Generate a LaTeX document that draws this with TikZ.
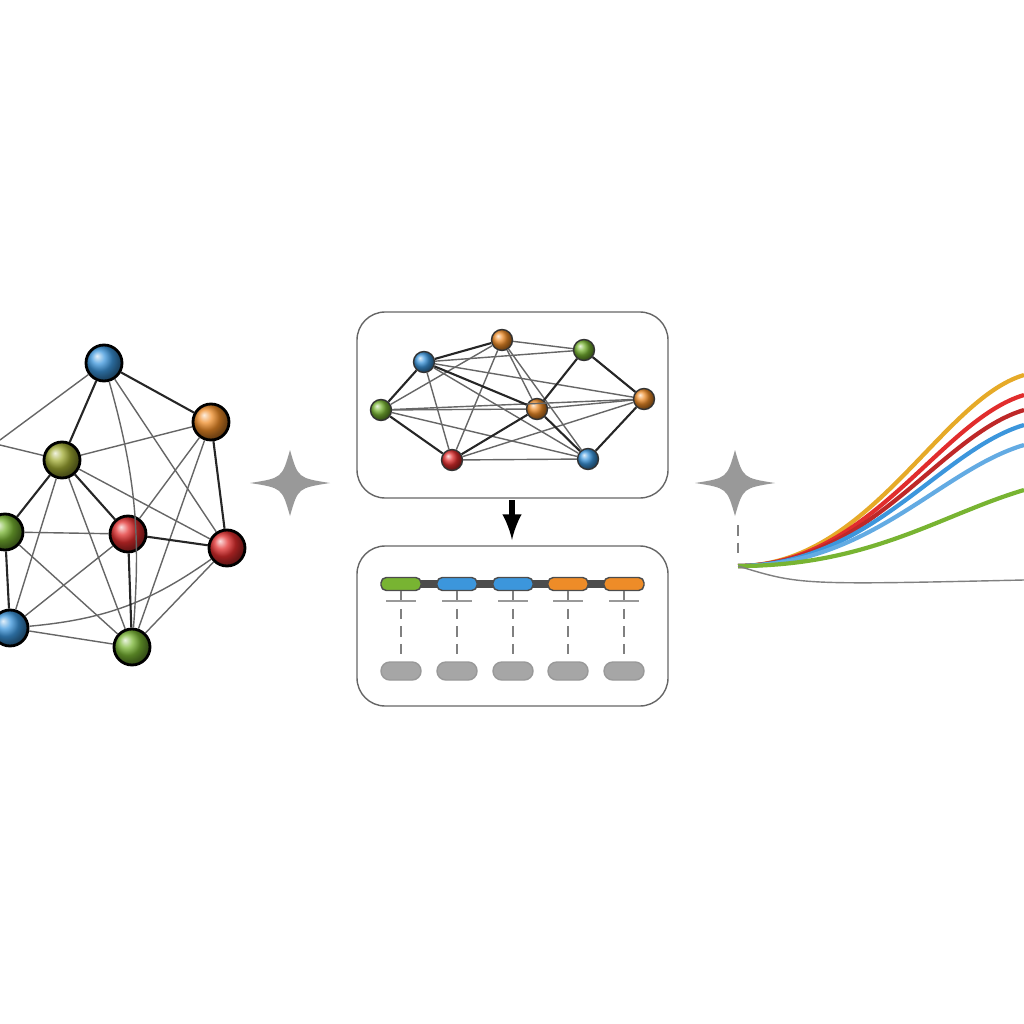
\documentclass[tikz,border=0pt]{standalone}
\usetikzlibrary{positioning}
\definecolor{nblue}{RGB}{60,150,220}
\definecolor{norange}{RGB}{238,140,40}
\definecolor{ngreen}{RGB}{120,180,50}
\definecolor{nolive}{RGB}{160,170,50}
\definecolor{nred}{RGB}{225,45,45}
\definecolor{cyel}{RGB}{230,170,40}
\definecolor{cdred}{RGB}{190,40,40}
\begin{document}
\begin{tikzpicture}[x=0.1mm,y=-0.1mm,
  big/.style={circle,draw=black,thick,minimum size=3.6mm,inner sep=0pt},
  small/.style={circle,draw=black!80,minimum size=2.1mm,inner sep=0pt},
  edge/.style={black!60,thin},
  bold/.style={black!85,semithick},
  tok/.style={rounded corners=1.5pt,draw=black!70,minimum width=4mm,minimum height=1.3mm,inner sep=0pt},
  pill/.style={rounded corners=2.5pt,fill=black!35,draw=black!40,minimum width=4mm,minimum height=1.8mm,inner sep=0pt},
  box/.style={draw=black!60,rounded corners=8pt},
  star/.style={fill=black!40,draw=none}]
\useasboundingbox (0,0) rectangle (1024,1024);
% left graph
\node at (104,363)[big,ball color=nblue](B1){};
\node at (211,422)[big,ball color=norange](O1){};
\node at (62,460)[big,ball color=nolive](Y1){};
\node at (5,532)[big,ball color=ngreen](G1){};
\node at (128,534)[big,ball color=nred](R1){};
\node at (227,548)[big,ball color=nred](R2){};
\node at (10,628)[big,ball color=nblue](B2){};
\node at (132,647)[big,ball color=ngreen](G2){};
\begin{scope}[on background layer/.try]
\foreach \a/\b in {B1/R2,Y1/O1,Y1/R2,Y1/B2,Y1/G2,O1/R1,O1/G2,G1/G2,R1/B2,R2/G2,B2/G2,G1/R1}
  \draw[edge] (\a) -- (\b);
\draw[edge] (B1) to[bend left=10] (G2);
\draw[edge] (R2) to[bend left=15] (B2);
\draw[edge] (B1) -- (0,440);
\draw[edge] (Y1) -- (0,445);
\end{scope}
\foreach \a/\b in {B1/O1,B1/Y1,O1/R2,Y1/R1,R1/R2,Y1/G1,G1/B2,R1/G2}
  \draw[bold] (\a) -- (\b);
% left star
\fill[star] (250,483) .. controls (282,478) .. (290,450) .. controls (298,478) .. (330,483)
  .. controls (298,488) .. (290,516) .. controls (282,488) .. (250,483);
% middle box with graph
\draw[box] (357,312) rectangle (668,498);
\node at (424,362)[small,ball color=nblue](a){};
\node at (502,340)[small,ball color=norange](b){};
\node at (584,350)[small,ball color=ngreen](c){};
\node at (381,410)[small,ball color=ngreen](d){};
\node at (537,409)[small,ball color=norange](e){};
\node at (644,399)[small,ball color=norange](f){};
\node at (452,460)[small,ball color=nred](g){};
\node at (588,459)[small,ball color=nblue](h){};
\foreach \a/\b in {a/c,a/g,a/h,b/d,b/g,b/e,b/c,c/f,d/e,d/h,d/f,g/h,g/f,e/f,a/f,b/h}
  \draw[edge] (\a) -- (\b);
\foreach \a/\b in {a/b,a/d,d/g,g/e,e/h,e/c,c/f,a/e,h/f}
  \draw[bold] (\a) -- (\b);
% arrow
\draw[line width=1.5pt,-latex] (512,500) -- (512,540);
% lower box
\draw[box] (357,546) rectangle (668,706);
\draw[line width=2pt,black!70] (401,584) -- (624,584);
\foreach \x/\c [count=\i] in {401/ngreen,457/nblue,513/nblue,568/norange,624/norange}{
  \node at (\x,584)[tok,fill=\c](t\i){};
  \node at (\x,671)[pill](p\i){};
  \draw[black!50,densely dashed] (t\i) -- (p\i);
  \draw[black!40,thick] (\x-15,601) -- (\x+15,601);
}
% right star
\fill[star] (695,483) .. controls (727,478) .. (735,450) .. controls (743,478) .. (775,483)
  .. controls (743,488) .. (735,516) .. controls (727,488) .. (695,483);
% curves
\coordinate (S) at (738,566);
\foreach \e/\c in {375/cyel,395/nred,410/cdred,425/nblue,445/nblue!80,490/ngreen}
  \draw[\c,line width=1.2pt] (S) .. controls (870,566) and (940,\e+25) .. (1024,\e);
\draw[black!50] (S) .. controls (800,585) .. (1024,580);
\draw[black!50,densely dashed] (738,525) -- (738,560);
\end{tikzpicture}
\end{document}
